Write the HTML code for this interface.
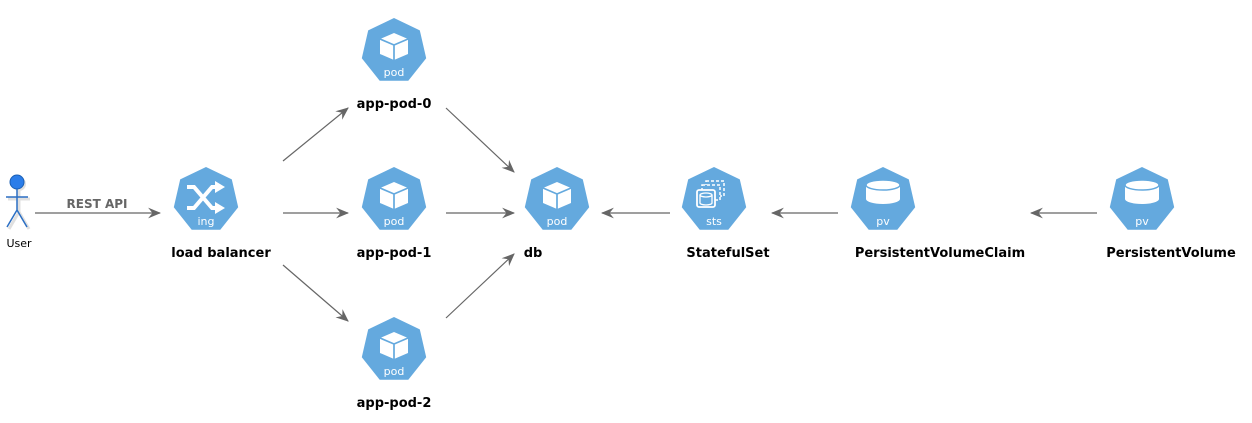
<!DOCTYPE html>
<html><head><meta charset="utf-8"><style>
html,body{margin:0;padding:0;background:#fff;}
svg{display:block;}
.l{font-family:"DejaVu Sans","Liberation Sans",sans-serif;font-weight:bold;font-size:13px;fill:#000;text-anchor:middle;}
.i{font-family:"DejaVu Sans","Liberation Sans",sans-serif;font-size:11px;fill:#fff;text-anchor:middle;}
.e{stroke:#666;stroke-width:1.2;fill:none;marker-end:url(#a);}
</style></head><body>
<svg width="1252" height="423" viewBox="0 0 1252 423" xmlns="http://www.w3.org/2000/svg">
<defs>
<marker id="a" viewBox="0 0 12 10" refX="11" refY="5" markerWidth="13" markerHeight="11" markerUnits="userSpaceOnUse" orient="auto">
<path d="M0,0 L12,5 L0,10 L4,5 Z" fill="#666"/>
</marker>
<polygon id="h" points="0,-33 25.8,-20.6 32.2,7.3 14.3,29.7 -14.3,29.7 -32.2,7.3 -25.8,-20.6" fill="#64a9de"/>
<g id="cube">
<path d="M0,-14 L14,-8 L14,7 L0,13 L-14,7 L-14,-8 Z" fill="#fff"/>
<path d="M-14,-8 L0,-2 L14,-8 M0,-2 L0,13" stroke="#64a9de" stroke-width="1.7" fill="none"/>
</g>
<g id="disk">
<rect x="-17" y="-11" width="34" height="14" fill="#fff"/>
<ellipse cx="0" cy="3" rx="17" ry="5" fill="#fff"/>
<ellipse cx="0" cy="-11" rx="17" ry="5" fill="#fff" stroke="#64a9de" stroke-width="1.5"/>
</g>
</defs>

<line class="e" x1="35" y1="213" x2="160" y2="213"/>
<text x="97" y="208" style="font-family:'DejaVu Sans','Liberation Sans',sans-serif;font-weight:bold;font-size:12px;fill:#666" text-anchor="middle">REST API</text>
<line class="e" x1="283" y1="161" x2="348" y2="108"/>
<line class="e" x1="283" y1="213" x2="348" y2="213"/>
<line class="e" x1="283" y1="265" x2="348" y2="321"/>
<line class="e" x1="446" y1="108" x2="514" y2="172"/>
<line class="e" x1="446" y1="213" x2="514" y2="213"/>
<line class="e" x1="446" y1="318" x2="514" y2="254"/>
<line class="e" x1="670" y1="213" x2="602" y2="213"/>
<line class="e" x1="838" y1="213" x2="772" y2="213"/>
<line class="e" x1="1097" y1="213" x2="1031" y2="213"/>

<g transform="translate(2,2)" opacity="0.25"><circle cx="17" cy="182" r="7" fill="#888"/><path d="M17,189 V210 M6,197 H28 M17,210 L7,227 M17,210 L27,227" stroke="#888" stroke-width="3"/></g>
<circle cx="17" cy="182" r="7" fill="#2b7de9" stroke="#1a5fb4" stroke-width="1"/>
<path d="M17,189 V210 M6,197 H28 M17,210 L7,227 M17,210 L27,227" stroke="#2b6fc4" stroke-width="1.5" fill="none"/>
<text x="19" y="247" style="font-family:'DejaVu Sans','Liberation Sans',sans-serif;font-size:11px;fill:#000" text-anchor="middle">User</text>

<g transform="translate(206,200)"><use href="#h"/>
<path d="M-19,-13 L-12,-13 L6,8 L10,8 M-19,8 L-12,8 L6,-13 L10,-13" stroke="#fff" stroke-width="4" fill="none"/>
<path d="M9,-19 L19,-13 L9,-7 Z M9,2 L19,8 L9,14 Z" fill="#fff"/>
<text class="i" y="25">ing</text></g>
<text class="l" x="221" y="257">load balancer</text>

<g transform="translate(394,51)"><use href="#h"/><use href="#cube" y="-4"/><text class="i" y="25">pod</text></g>
<text class="l" x="394" y="108">app-pod-0</text>
<g transform="translate(394,200)"><use href="#h"/><use href="#cube" y="-4"/><text class="i" y="25">pod</text></g>
<text class="l" x="394" y="257">app-pod-1</text>
<g transform="translate(394,350)"><use href="#h"/><use href="#cube" y="-4"/><text class="i" y="25">pod</text></g>
<text class="l" x="394" y="407">app-pod-2</text>

<g transform="translate(557,200)"><use href="#h"/><use href="#cube" y="-4"/><text class="i" y="25">pod</text></g>
<text class="l" x="533" y="257">db</text>

<g transform="translate(714,200)"><use href="#h"/>
<rect x="-8" y="-19" width="18" height="15" fill="none" stroke="#fff" stroke-width="1.5" stroke-dasharray="3,2"/>
<rect x="-12" y="-15" width="18" height="15" fill="#64a9de" stroke="#fff" stroke-width="1.5" stroke-dasharray="3,2"/>
<rect x="-17" y="-10" width="18" height="17" rx="2" fill="#64a9de" stroke="#fff" stroke-width="1.8"/>
<ellipse cx="-8" cy="-5" rx="6" ry="2" fill="none" stroke="#fff" stroke-width="1.3"/>
<path d="M-14,-5 V3 A6,2 0 0 0 -2,3 V-5" fill="none" stroke="#fff" stroke-width="1.3"/>
<text class="i" y="25">sts</text></g>
<text class="l" x="728" y="257">StatefulSet</text>

<g transform="translate(883,200)"><use href="#h"/><use href="#disk" y="-4"/><text class="i" y="25">pv</text></g>
<text class="l" x="940" y="257">PersistentVolumeClaim</text>

<g transform="translate(1142,200)"><use href="#h"/><use href="#disk" y="-4"/><text class="i" y="25">pv</text></g>
<text class="l" x="1171" y="257">PersistentVolume</text>
</svg>
</body></html>
